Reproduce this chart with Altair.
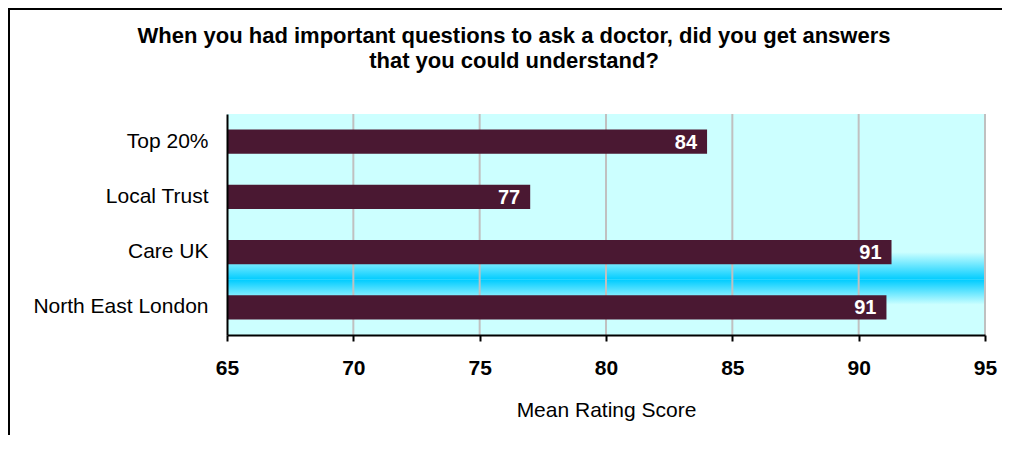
import altair as alt
import pandas as pd

# ---- data ----
categories = ["Top 20%", "Local Trust", "Care UK", "North East London"]
values = [84.0, 77.0, 91.3, 91.1]
value_labels = ["84", "77", "91", "91"]
tick_values = [65, 70, 75, 80, 85, 90, 95]
grid_values = [70, 75, 80, 85, 90, 95]
title_lines = [
    "When you had important questions to ask a doctor, did you get answers",
    "that you could understand?",
]
x_title = "Mean Rating Score"

FONT = "Liberation Sans"
BAR = "#4A1832"
BG = "#CCFFFF"
CYAN = "#00CCFF"

W, H = 758, 221

df = pd.DataFrame({"category": categories, "value": values, "label": value_labels})
grid_df = pd.DataFrame({"v": grid_values})
band_df = pd.DataFrame({"category": ["Care UK", "North East London"]})

xscale = alt.Scale(domain=[65, 95], nice=False, zero=False)
yscale = alt.Scale(domain=categories, paddingInner=0, paddingOuter=0)

x_axis = alt.Axis(
    title=x_title, values=tick_values, grid=False, domainColor="black", domainWidth=2,
    tickColor="black", tickWidth=2, tickSize=6, labelFont=FONT, labelFontSize=21,
    labelFontWeight="bold", labelColor="black", labelPadding=16, labelFlush=False,
    titleFont=FONT, titleFontSize=21, titleFontWeight="normal", titleColor="black",
    titleY=81, titleBaseline="alphabetic", zindex=1,
)
y_axis = alt.Axis(
    title=None, ticks=False, grid=False, domainColor="black", domainWidth=2,
    labelFont=FONT, labelFontSize=21, labelColor="black", labelPadding=19,
    labelLimit=400, zindex=1,
)

def grad(stops):
    return alt.Gradient(
        gradient="linear",
        stops=[alt.GradientStop(offset=o, color=c) for o, c in stops],
        x1=0, x2=0, y1=0, y2=1,
    )

band_top = alt.Chart(band_df).transform_filter(
    alt.datum.category == "Care UK"
).mark_rect(color=grad([(0, BG), (0.5, BG), (1, CYAN)])).encode(
    y=alt.Y("category:N", scale=yscale, axis=y_axis, sort=categories),
    x=alt.datum(65, scale=xscale, axis=x_axis),
    x2=alt.datum(95),
)
band_bot = alt.Chart(band_df).transform_filter(
    alt.datum.category == "North East London"
).mark_rect(color=grad([(0, CYAN), (0.45, BG), (1, BG)])).encode(
    y=alt.Y("category:N", scale=yscale, axis=y_axis, sort=categories),
    x=alt.datum(65, scale=xscale, axis=x_axis),
    x2=alt.datum(95),
)

grid = alt.Chart(grid_df).mark_rule(color="#C0C0C0", strokeWidth=2).encode(
    x=alt.X("v:Q", scale=xscale, axis=x_axis),
)

bars = alt.Chart(df).mark_bar(color=BAR, height={"band": 0.44}, clip=True).encode(
    y=alt.Y("category:N", scale=yscale, axis=y_axis, sort=categories),
    x=alt.X("value:Q", scale=xscale, axis=x_axis),
)

texts = alt.Chart(df).mark_text(
    align="right", baseline="middle", dx=-10, dy=1, font=FONT, fontSize=20,
    fontWeight="bold", color="white",
).encode(
    y=alt.Y("category:N", scale=yscale, axis=y_axis, sort=categories),
    x=alt.X("value:Q", scale=xscale, axis=x_axis),
    text="label:N",
)

frame = alt.Chart(pd.DataFrame({"f": [0]})).mark_rect(
    fill=None, stroke="black", strokeWidth=2, clip=False
).encode(
    x=alt.value(-218), x2=alt.value(W + 100),
    y=alt.value(-105), y2=alt.value(H + 200),
)

chart = alt.layer(band_top, band_bot, grid, bars, texts, frame).properties(
    width=W, height=H,
    padding={"left": 219, "top": 106, "right": 17, "bottom": 100},
    autosize=alt.AutoSizeParams(type="none"),
    background="white",
    title=alt.TitleParams(
        text=title_lines, font=FONT, fontSize=22, fontWeight="bold", color="black",
        anchor="middle", dx=-92, offset=-65, lineHeight=25,
    ),
).configure_view(fill=BG, stroke=None)

chart.save("out.html", embed_options={"renderer": "svg", "actions": False})
